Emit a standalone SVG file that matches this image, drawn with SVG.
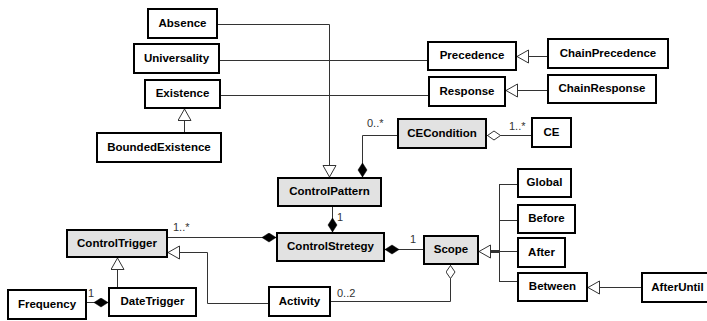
<svg xmlns="http://www.w3.org/2000/svg" width="707" height="321" viewBox="0 0 707 321">
  <style>
    .box rect { fill: #ffffff; stroke: #000000; stroke-width: 2; }
    .box.gray rect { fill: #e2e2e2; }
    .box text { font-family: "Liberation Sans", Arial, sans-serif; font-weight: bold; font-size: 11.5px; fill: #000000; text-anchor: middle; }
    .conn path { fill: none; stroke: #333333; stroke-width: 1; }
    .mult { font-family: "Liberation Sans", Arial, sans-serif; font-size: 11px; fill: #333333; }
  </style>
  <defs>
    <!-- hollow generalization triangle, tip at path end -->
    <marker id="gen" markerUnits="userSpaceOnUse" markerWidth="14" markerHeight="16" refX="12" refY="7" orient="auto">
      <path d="M0.5,0.5 L12,7 L0.5,13.5 Z" fill="#ffffff" stroke="#333333" stroke-width="1"/>
    </marker>
    <!-- filled composition diamond, tip at path end -->
    <marker id="comp" markerUnits="userSpaceOnUse" markerWidth="16" markerHeight="12" refX="14" refY="5" orient="auto">
      <path d="M0,5 L7,0.5 L14,5 L7,9.5 Z" fill="#000000" stroke="#000000" stroke-width="0.5"/>
    </marker>
    <!-- hollow aggregation diamond, tip at path start -->
    <marker id="agg" markerUnits="userSpaceOnUse" markerWidth="16" markerHeight="12" refX="14" refY="5" orient="auto-start-reverse">
      <path d="M0.5,5 L7,0.5 L13.5,5 L7,9.5 Z" fill="#ffffff" stroke="#333333" stroke-width="1"/>
    </marker>
  </defs>

  <rect width="707" height="321" fill="#ffffff"/>

  <g id="connectors" class="conn">
    <path d="M218,24.5 H329.5 V177" marker-end="url(#gen)"/>
    <path d="M220,60.5 H427"/>
    <path d="M221,95.5 H428"/>
    <path d="M547,56.5 H517" marker-end="url(#gen)"/>
    <path d="M547,90.5 H506" marker-end="url(#gen)"/>
    <path d="M184.5,132 V109" marker-end="url(#gen)"/>
    <path d="M397,135.5 H362.5 V177" marker-end="url(#comp)"/>
    <path d="M531,135.5 H487" marker-end="url(#agg)"/>
    <path d="M332.5,207 V232" marker-end="url(#comp)"/>
    <path d="M168,237.5 H276" marker-end="url(#comp)"/>
    <path d="M423,249.5 H385" marker-end="url(#comp)"/>
    <path d="M331,301.5 H450.5 V265" marker-end="url(#agg)"/>
    <path d="M268,303.5 H207.5 V252.5 H168" marker-end="url(#gen)"/>
    <path d="M117.5,287 V258" marker-end="url(#gen)"/>
    <path d="M87,302.5 H108" marker-end="url(#comp)"/>
    <path d="M499,251.5 H479" marker-end="url(#gen)"/>
    <path d="M491,251.5 H499" style="stroke-width:3"/>
    <path d="M499.5,184 V281.5"/>
    <path d="M499,184.5 H517"/>
    <path d="M499,220.5 H517"/>
    <path d="M499,251.5 H517"/>
    <path d="M499,281.5 H517"/>
    <path d="M641,287.5 H588" marker-end="url(#gen)"/>
  </g>

  <g id="multiplicities">
    <text class="mult" x="367" y="127">0..*</text>
    <text class="mult" x="509" y="130">1..*</text>
    <text class="mult" x="337" y="221">1</text>
    <text class="mult" x="173" y="231">1..*</text>
    <text class="mult" x="410" y="243">1</text>
    <text class="mult" x="337" y="297">0..2</text>
    <text class="mult" x="88" y="297">1</text>
  </g>

  <g id="Absence" class="box"><rect x="148" y="9" width="69" height="29"/><text x="182.5" y="27">Absence</text></g>
  <g id="Universality" class="box"><rect x="134" y="44" width="85" height="29"/><text x="176.5" y="62">Universality</text></g>
  <g id="Existence" class="box"><rect x="145" y="80" width="75" height="28"/><text x="182.5" y="97">Existence</text></g>
  <g id="BoundedExistence" class="box"><rect x="97" y="133" width="124" height="29"/><text x="159" y="151">BoundedExistence</text></g>
  <g id="Precedence" class="box"><rect x="428" y="42" width="88" height="28"/><text x="472" y="59">Precedence</text></g>
  <g id="ChainPrecedence" class="box"><rect x="548" y="39" width="120" height="29"/><text x="608" y="57">ChainPrecedence</text></g>
  <g id="Response" class="box"><rect x="429" y="77" width="76" height="29"/><text x="467" y="95">Response</text></g>
  <g id="ChainResponse" class="box"><rect x="548" y="75" width="108" height="28"/><text x="602" y="92">ChainResponse</text></g>
  <g id="CECondition" class="box gray"><rect x="398" y="119" width="88" height="29"/><text x="442" y="137">CECondition</text></g>
  <g id="CE" class="box"><rect x="532" y="118" width="39" height="29"/><text x="551.5" y="136">CE</text></g>
  <g id="ControlPattern" class="box gray"><rect x="278" y="178" width="103" height="28"/><text x="329.5" y="195">ControlPattern</text></g>
  <g id="ControlStretegy" class="box gray"><rect x="277" y="233" width="107" height="28"/><text x="330.5" y="250">ControlStretegy</text></g>
  <g id="Scope" class="box gray"><rect x="424" y="236" width="54" height="28"/><text x="451" y="253">Scope</text></g>
  <g id="Global" class="box"><rect x="518" y="169" width="53" height="28"/><text x="544.5" y="186">Global</text></g>
  <g id="Before" class="box"><rect x="518" y="205" width="57" height="28"/><text x="546.5" y="222">Before</text></g>
  <g id="After" class="box"><rect x="518" y="238" width="47" height="29"/><text x="541.5" y="256">After</text></g>
  <g id="Between" class="box"><rect x="518" y="273" width="69" height="28"/><text x="552.5" y="290">Between</text></g>
  <g id="AfterUntil" class="box"><rect x="642" y="273" width="71" height="29"/><text x="677.5" y="291">AfterUntil</text></g>
  <g id="ControlTrigger" class="box gray"><rect x="67" y="230" width="100" height="27"/><text x="117" y="247">ControlTrigger</text></g>
  <g id="DateTrigger" class="box"><rect x="109" y="288" width="87" height="28"/><text x="152.5" y="305">DateTrigger</text></g>
  <g id="Frequency" class="box"><rect x="8" y="290" width="78" height="29"/><text x="47" y="308">Frequency</text></g>
  <g id="Activity" class="box"><rect x="269" y="287" width="61" height="29"/><text x="299.5" y="305">Activity</text></g>
</svg>
